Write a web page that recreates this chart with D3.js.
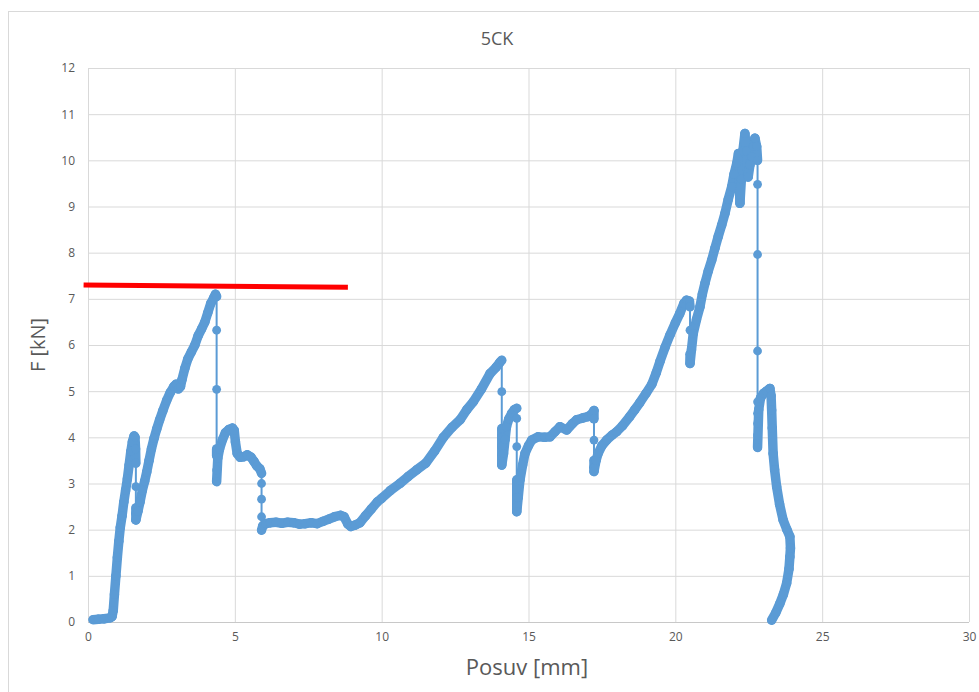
<!DOCTYPE html>
<html>
<head>
<meta charset="utf-8">
<script src="https://cdn.jsdelivr.net/npm/d3@7"></script>
<style>
    html, body { margin: 0; padding: 0; background: #fff; overflow: hidden; }
</style>
</head>
<body>
<div id="chart"></div>
<script>

// Posuv [mm] / F [kN]
const posuv = [
    0.17, 0.35, 0.55, 0.75, 0.82, 0.86, 0.90, 0.95, 1.00, 1.05, 1.10, 1.16, 1.22, 1.28, 1.34, 1.40, 1.46, 1.51, 1.57, 1.60, 1.62,
    1.63, 1.63, 1.63, 1.63, 1.63,
    1.70, 1.77, 1.85, 1.93, 2.00, 2.08, 2.16, 2.25, 2.34, 2.44, 2.55, 2.68, 2.80, 2.92, 3.00, 3.08, 3.15, 3.20, 3.30, 3.40, 3.52,
    3.64, 3.75, 3.87, 3.98, 4.08, 4.18, 4.28, 4.34, 4.38,
    4.38, 4.38, 4.38, 4.38, 4.38, 4.38,
    4.42, 4.48, 4.58, 4.68, 4.80, 4.92, 4.98, 5.02, 5.08, 5.18, 5.30, 5.42, 5.55, 5.65, 5.75, 5.85, 5.91,
    5.91, 5.91, 5.91, 5.91,
    5.95, 6.05, 6.20, 6.40, 6.60, 6.80, 7.00, 7.20, 7.40, 7.60, 7.80, 8.00, 8.20, 8.40, 8.60, 8.72, 8.85, 8.95, 9.10, 9.26,
    9.45, 9.65, 9.85, 10.00, 10.30, 10.62, 10.90, 11.20, 11.50, 11.80, 12.10, 12.40, 12.67, 12.90, 13.12, 13.40, 13.69, 13.90,
    14.02, 14.09,
    14.09, 14.09, 14.09, 14.09, 14.09, 14.09,
    14.15, 14.20, 14.25, 14.33, 14.43, 14.52, 14.60,
    14.60, 14.60, 14.60, 14.60, 14.60, 14.60, 14.60,
    14.65, 14.71, 14.80, 14.88, 15.00, 15.11, 15.33, 15.55, 15.73, 15.90, 16.07, 16.30, 16.50, 16.64, 16.85, 17.03, 17.15, 17.23,
    17.23, 17.23, 17.23, 17.23, 17.23,
    17.30, 17.37, 17.50, 17.66, 17.85, 18.00, 18.20, 18.45, 18.62, 18.79, 19.00, 19.20, 19.35, 19.48, 19.65, 19.82, 20.00,
    20.15, 20.29, 20.38, 20.48, 20.50,
    20.50, 20.50, 20.50,
    20.55, 20.61, 20.72, 20.84, 20.92, 21.01, 21.12, 21.24, 21.35, 21.46, 21.58, 21.69, 21.80, 21.92, 22.00, 22.09, 22.15,
    22.20, 22.25, 22.30, 22.37, 22.42, 22.48, 22.54, 22.60, 22.66, 22.71, 22.77, 22.80,
    22.80, 22.80, 22.80, 22.80, 22.80, 22.80, 22.80, 22.80,
    22.84, 22.90, 23.00, 23.10, 23.22, 23.26, 23.28, 23.30, 23.33, 23.38, 23.45, 23.55, 23.67, 23.80, 23.90, 23.92, 23.90,
    23.87, 23.79, 23.68, 23.56, 23.42, 23.28
];

const sila = [
    0.05, 0.06, 0.07, 0.09, 0.12, 0.25, 0.60, 1.00, 1.40, 1.75, 2.05, 2.30, 2.60, 2.85, 3.10, 3.40, 3.70, 3.90, 4.03, 4.00, 3.75,
    3.44, 2.93, 2.47, 2.35, 2.21,
    2.40, 2.60, 2.85, 3.05, 3.25, 3.50, 3.75, 3.98, 4.18, 4.38, 4.58, 4.80, 4.97, 5.10, 5.15, 5.05, 5.10, 5.25, 5.50, 5.70, 5.85,
    6.00, 6.20, 6.35, 6.50, 6.70, 6.90, 7.02, 7.10, 7.05,
    6.32, 5.04, 3.75, 3.60, 3.29, 3.04,
    3.55, 3.75, 3.95, 4.10, 4.17, 4.20, 4.15, 3.90, 3.65, 3.57, 3.58, 3.62, 3.57, 3.48, 3.38, 3.32, 3.22,
    3.00, 2.66, 2.28, 1.99,
    2.08, 2.13, 2.15, 2.16, 2.14, 2.16, 2.15, 2.12, 2.13, 2.15, 2.13, 2.18, 2.23, 2.28, 2.31, 2.28, 2.12, 2.07, 2.10, 2.15,
    2.30, 2.45, 2.60, 2.68, 2.85, 3.00, 3.15, 3.30, 3.44, 3.70, 4.00, 4.22, 4.38, 4.60, 4.77, 5.05, 5.38, 5.52,
    5.62, 5.67,
    4.99, 4.19, 4.00, 3.80, 3.60, 3.40,
    3.65, 3.95, 4.23, 4.40, 4.52, 4.60, 4.63,
    4.41, 3.80, 3.08, 2.90, 2.70, 2.50, 2.39,
    2.70, 3.08, 3.40, 3.65, 3.82, 3.94, 4.01, 4.00, 4.01, 4.12, 4.23, 4.16, 4.30, 4.38, 4.42, 4.45, 4.50, 4.58,
    4.40, 3.94, 3.50, 3.35, 3.26,
    3.50, 3.65, 3.82, 3.94, 4.05, 4.12, 4.25, 4.45, 4.60, 4.75, 4.95, 5.15, 5.40, 5.65, 5.95, 6.22, 6.48,
    6.68, 6.90, 6.97, 6.95, 6.83,
    6.32, 5.80, 5.60,
    5.90, 6.25, 6.55, 6.83, 7.10, 7.34, 7.60, 7.84, 8.10, 8.35, 8.60, 8.85, 9.15, 9.43, 9.70, 9.93, 10.15,
    9.07, 9.60, 10.20, 10.58, 10.20, 9.64, 9.90, 10.08, 10.30, 10.48, 10.30, 10.00,
    9.48, 7.96, 5.87, 4.77, 4.52, 4.30, 4.05, 3.78,
    4.60, 4.85, 4.95, 5.00, 5.06, 4.90, 4.59, 4.20, 3.65, 3.30, 2.93, 2.55, 2.21, 2.00, 1.85, 1.60, 1.41,
    1.15, 0.84, 0.60, 0.40, 0.20, 0.04
];

// red marker line drawn over the chart
const redLineX = [-0.15, 8.85];
const redLineY = [7.30, 7.25];

const xTicks = [0, 5, 10, 15, 20, 25, 30];
const yTicks = [0, 1, 2, 3, 4, 5, 6, 7, 8, 9, 10, 11, 12];

const chartTitle = "5CK";
const xTitle = "Posuv [mm]";
const yTitle = "F [kN]";

const points = posuv.map((p, i) => ({posuv: p, sila: sila[i]}));
const redLine = redLineX.map((p, i) => ({posuv: p, sila: redLineY[i]}));

document.getElementById('chart').append(plotChart());

function plotChart() {

    const width = 979;
    const height = 692;
    const marginTop = 68;
    const marginRight = 10;
    const marginBottom = 70;
    const marginLeft = 88;

    const blue = "#5b9bd5";
    const textColor = "#595959";
    const font = "'Open Sans', sans-serif";

    const x = d3.scaleLinear()
        .domain([0, 30])
        .range([marginLeft, width - marginRight]);

    const y = d3.scaleLinear()
        .domain([0, 12])
        .range([height - marginBottom, marginTop]);

    const svg = d3.create("svg")
        .attr("width", width)
        .attr("height", height)
        .attr("viewBox", [0, 0, width, height])
        .attr("font-family", font);

    svg.append("rect")
        .attr("width", width)
        .attr("height", height)
        .attr("fill", "white");

    // chart border
    svg.append("rect")
        .attr("x", 8.5)
        .attr("y", 11.5)
        .attr("width", width + 10)
        .attr("height", height + 10)
        .attr("fill", "none")
        .attr("stroke", "#d9d9d9");

    // grid + x axis
    svg.append("g")
        .attr("transform", `translate(0,${height - marginBottom})`)
        .call(d3.axisBottom(x).tickValues(xTicks).tickSize(0).tickPadding(10))
        .call(g => g.select(".domain").remove())
        .call(g => g.selectAll(".tick line").clone()
            .attr("y2", -(height - marginBottom - marginTop))
            .attr("stroke", "#d9d9d9"))
        .call(g => g.selectAll(".tick text")
            .attr("fill", textColor)
            .attr("font-size", 12)
            .attr("font-family", font));

    svg.append("g")
        .attr("transform", `translate(${marginLeft},0)`)
        .call(d3.axisLeft(y).tickValues(yTicks).tickSize(0).tickPadding(13))
        .call(g => g.select(".domain").remove())
        .call(g => g.selectAll(".tick line").clone()
            .attr("x2", width - marginLeft - marginRight)
            .attr("stroke", d => d === 0 ? "#c8c8c8" : "#d9d9d9"))
        .call(g => g.selectAll(".tick text")
            .attr("fill", textColor)
            .attr("font-size", 12)
            .attr("font-family", font));

    // titles
    svg.append("text")
        .attr("x", 497)
        .attr("y", 45)
        .attr("text-anchor", "middle")
        .attr("fill", textColor)
        .attr("font-size", 18)
        .text(chartTitle);

    svg.append("text")
        .attr("x", 527)
        .attr("y", 675)
        .attr("text-anchor", "middle")
        .attr("fill", textColor)
        .attr("font-size", 22)
        .text(xTitle);

    svg.append("text")
        .attr("transform", `translate(45,${(marginTop + height - marginBottom) / 2}) rotate(-90)`)
        .attr("text-anchor", "middle")
        .attr("fill", textColor)
        .attr("font-size", 20)
        .text(yTitle);

    // series: the measured points are so dense that they fuse into a thick band;
    // only the vertical drops show the thin line between single markers
    const segments = d3.pairs(points).map(([a, b]) => {
        const len = Math.hypot(x(b.posuv) - x(a.posuv), y(b.sila) - y(a.sila));
        return {a, b, thin: a.posuv === b.posuv && len > 10};
    });

    svg.append("g")
        .attr("stroke", blue)
        .attr("stroke-linecap", "round")
        .selectAll("line")
        .data(segments)
        .join("line")
        .attr("x1", d => x(d.a.posuv))
        .attr("y1", d => y(d.a.sila))
        .attr("x2", d => x(d.b.posuv))
        .attr("y2", d => y(d.b.sila))
        .attr("stroke-width", d => d.thin ? 2 : 9.5);

    svg.append("g")
        .attr("fill", blue)
        .selectAll("circle")
        .data(points)
        .join("circle")
        .attr("cx", d => x(d.posuv))
        .attr("cy", d => y(d.sila))
        .attr("r", 4.4);

    const redPath = d3.line()
        .x(d => x(d.posuv))
        .y(d => y(d.sila));

    svg.append("path")
        .datum(redLine)
        .attr("fill", "none")
        .attr("stroke", "#ff0000")
        .attr("stroke-width", 5)
        .attr("d", redPath);

    return svg.node();
}

</script>
</body>
</html>
